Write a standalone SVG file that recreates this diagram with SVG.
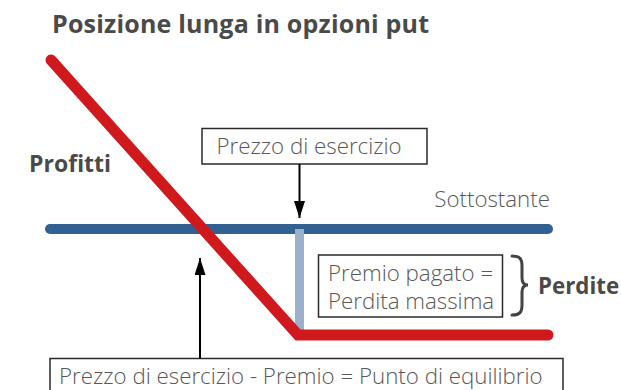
<svg xmlns="http://www.w3.org/2000/svg" width="621" height="390" viewBox="0 0 621 390">
  <style>
    .bold { font-family: "Open Sans", "Liberation Sans", sans-serif; font-weight: 700; fill: #4a4a4a; }
    .light { font-family: "Open Sans", "Liberation Sans", sans-serif; font-weight: 300; fill: #585858; font-size: 22.3px; }
    .box { fill: #ffffff; stroke: #2a2a2a; stroke-width: 1.5; }
    .arrow { stroke: #000000; stroke-width: 2; fill: none; marker-end: url(#head); }
  </style>
  <defs>
    <marker id="head" viewBox="0 0 17 11" markerUnits="userSpaceOnUse" markerWidth="17" markerHeight="11" refX="17" refY="5.5" orient="auto">
      <path d="M0,0 L17,5.5 L0,11 Z" fill="#000000"/>
    </marker>
  </defs>
  <rect width="621" height="390" fill="#ffffff"/>

  <g id="title">
    <text class="bold" x="52" y="33" font-size="25" letter-spacing="0.2">Posizione lunga in opzioni put</text>
  </g>

  <g id="axis">
    <line x1="50" y1="229" x2="548" y2="229" stroke="#336092" stroke-width="10" stroke-linecap="round"/>
    <text class="light" x="550" y="207" text-anchor="end">Sottostante</text>
  </g>

  <g id="premium-bar">
    <line x1="299.5" y1="229" x2="299.5" y2="332" stroke="#9bb0ca" stroke-width="9"/>
  </g>

  <g id="payoff">
    <polyline points="51,60 298,335 548,335" fill="none" stroke="#d0191c" stroke-width="11" stroke-linecap="round" stroke-linejoin="miter"/>
  </g>

  <g id="profitti">
    <text class="bold" x="29" y="172" font-size="23">Profitti</text>
  </g>

  <g id="perdite">
    <path d="M512,256 C520,256 522,259 522,266 L522,278 C522,283 524,285 528,285 C524,285 522,287 522,292 L522,305 C522,312 520,315 512,315" fill="none" stroke="#444444" stroke-width="3" stroke-linecap="round"/>
    <text class="bold" x="538" y="294" font-size="22.3">Perdite</text>
  </g>

  <g id="strike-box">
    <rect class="box" x="202" y="128.5" width="225" height="35.5"/>
    <text class="light" x="216.5" y="153.5">Prezzo di esercizio</text>
  </g>

  <g id="premium-box">
    <rect class="box" x="318.5" y="255" width="184" height="62"/>
    <text class="light" x="328" y="280.5">Premio pagato =</text>
    <text class="light" x="328" y="308.5">Perdita massima</text>
  </g>

  <g id="breakeven-box">
    <rect class="box" x="50" y="358.5" width="513" height="40"/>
    <text class="light" x="59" y="383.5">Prezzo di esercizio - Premio = Punto di equilibrio</text>
  </g>

  <g id="connectors">
    <line class="arrow" x1="299.5" y1="164" x2="299.5" y2="218"/>
    <line class="arrow" x1="200" y1="358" x2="200" y2="258"/>
  </g>
</svg>
